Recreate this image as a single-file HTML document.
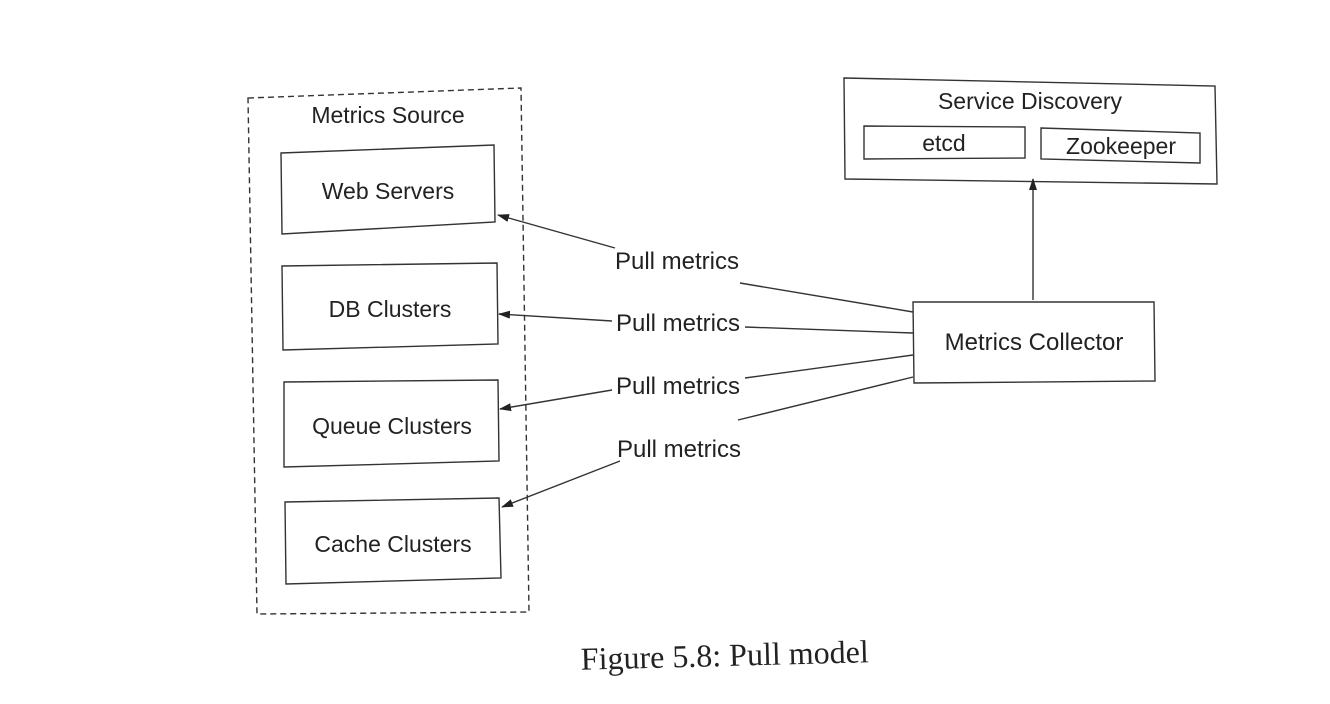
<!DOCTYPE html>
<html><head><style>
html,body{margin:0;padding:0;background:#fff;}
svg{display:block;}
text{font-family:"Liberation Sans",sans-serif;fill:#222;}
</style></head><body>
<svg width="1330" height="704" viewBox="0 0 1330 704" xmlns="http://www.w3.org/2000/svg">
<defs><marker id="a" markerWidth="12" markerHeight="8" refX="11" refY="4" orient="auto" markerUnits="userSpaceOnUse"><path d="M0,0 L12,4 L0,8 z" fill="#222"/></marker></defs>
<g fill="none" stroke="#333" stroke-width="1.4">
<polygon points="248,98 521,88 529,612 257,614" stroke-dasharray="6,4"/>
<polygon points="281,153 494,145 495,222 282,234"/>
<polygon points="282,266 497,263 498,344 283,350"/>
<polygon points="284,382 498,380 499,461 284,467"/>
<polygon points="285,502 499,498 501,578 286,584"/>
<polygon points="844,78 1215,86 1217,184 845,179"/>
<polygon points="864,126 1025,127 1025,158 864,159"/>
<polygon points="1041,128 1200,133 1200,163 1041,159"/>
<polygon points="913,302 1154,302 1155,381 914,383"/>
<line x1="1033" y1="300" x2="1033" y2="179" marker-end="url(#a)"/>
<polyline points="913,312 740,283"/><line x1="615" y1="248" x2="498" y2="215" marker-end="url(#a)"/>
<polyline points="913,333 745,327"/><line x1="612" y1="321" x2="499" y2="314" marker-end="url(#a)"/>
<polyline points="913,355 745,378"/><line x1="612" y1="390" x2="500" y2="409" marker-end="url(#a)"/>
<polyline points="913,377 738,420"/><line x1="620" y1="461" x2="502" y2="507" marker-end="url(#a)"/>
</g>
<g font-size="23">
<text x="388" y="123" text-anchor="middle">Metrics Source</text>
<text x="388" y="199" text-anchor="middle">Web Servers</text>
<text x="390" y="317" text-anchor="middle">DB Clusters</text>
<text x="392" y="434" text-anchor="middle">Queue Clusters</text>
<text x="393" y="552" text-anchor="middle">Cache Clusters</text>
<text x="1030" y="109" text-anchor="middle">Service Discovery</text>
<text x="944" y="151" text-anchor="middle">etcd</text>
<text x="1121" y="154" text-anchor="middle">Zookeeper</text>
<text x="1034" y="350" text-anchor="middle" font-size="24">Metrics Collector</text>
<text x="677" y="269" text-anchor="middle" font-size="24">Pull metrics</text>
<text x="678" y="331" text-anchor="middle" font-size="24">Pull metrics</text>
<text x="678" y="394" text-anchor="middle" font-size="24">Pull metrics</text>
<text x="679" y="457" text-anchor="middle" font-size="24">Pull metrics</text>
</g>
<text x="725" y="666" text-anchor="middle" font-size="32" style="font-family:'Liberation Serif',serif" transform="rotate(-1.5 725 666)">Figure 5.8: Pull model</text>
</svg>
</body></html>
